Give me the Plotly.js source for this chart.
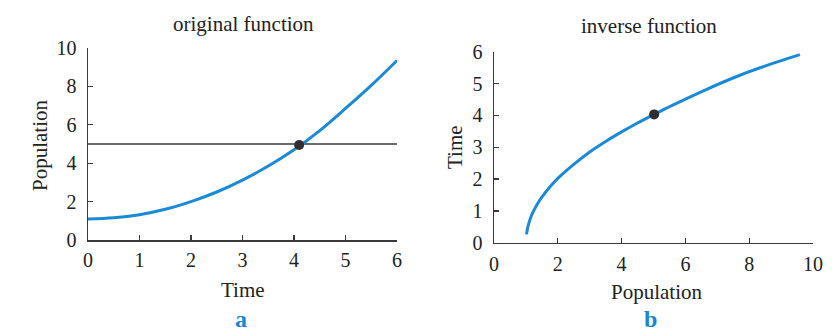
<!DOCTYPE html>
<html>
<head>
<meta charset="utf-8">
<script src="https://cdn.plot.ly/plotly-3.0.1.min.js"></script>
<style>html,body{margin:0;padding:0;background:#fff;}#chart{width:832px;height:333px;}</style>
</head>
<body>
<div id="chart"></div>
<script>
// Panel a: original function (Population vs Time)
const origTime = [0, 0.5, 1, 1.5, 2, 2.5, 3, 3.5, 4, 4.5, 5, 5.5, 6];
const origPop  = [1.1, 1.16, 1.32, 1.6, 2.0, 2.5, 3.12, 3.85, 4.7, 5.7, 6.85, 8.05, 9.35];
const hLineTime = [0, 6];
const hLinePop  = [5, 5];
const origPointTime = [4.1];
const origPointPop  = [4.95];

// Panel b: inverse function (Time vs Population)
const invPop  = [1.02, 1.05, 1.1, 1.2, 1.35, 1.5, 1.75, 2.0, 2.5, 3.0, 3.5, 4.0, 4.5, 5.02, 5.62, 6.67, 7.71, 8.76, 9.59];
const invTime = [0.26, 0.45, 0.64, 0.91, 1.2, 1.43, 1.75, 2.02, 2.46, 2.85, 3.18, 3.48, 3.76, 4.03, 4.33, 4.82, 5.26, 5.64, 5.91];
const invPointPop  = [5.02];
const invPointTime = [4.03];

const leftYTicks = [0, 2, 4, 6, 8, 10];
const leftXTicks = [0, 1, 2, 3, 4, 5, 6];
const rightYTicks = [0, 1, 2, 3, 4, 5, 6];
const rightXTicks = [0, 2, 4, 6, 8, 10];

const titles = ['original function', 'inverse function'];
const axisTitles = {aX: 'Time', aY: 'Population', bX: 'Population', bY: 'Time'};
const panelLabels = ['a', 'b'];

const blue = '#1b8ad6';
const dark = '#3a3a3a';
const serif = 'Liberation Serif, Times New Roman, serif';

const traces = [
  {x: hLineTime, y: hLinePop, mode: 'lines', line: {color: dark, width: 1.3}, xaxis: 'x', yaxis: 'y', cliponaxis: false, hoverinfo: 'skip'},
  {x: origTime, y: origPop, mode: 'lines', line: {color: blue, width: 3, shape: 'spline', smoothing: 1}, xaxis: 'x', yaxis: 'y', cliponaxis: false},
  {x: origPointTime, y: origPointPop, mode: 'markers', marker: {color: '#2e2e33', size: 10}, xaxis: 'x', yaxis: 'y', cliponaxis: false},
  {x: invPop, y: invTime, mode: 'lines', line: {color: blue, width: 3, shape: 'spline', smoothing: 0.9}, xaxis: 'x2', yaxis: 'y2', cliponaxis: false},
  {x: invPointPop, y: invPointTime, mode: 'markers', marker: {color: '#2e2e33', size: 10}, xaxis: 'x2', yaxis: 'y2', cliponaxis: false}
];

function axis(domain, range, ticks, anchor, extra) {
  return Object.assign({
    domain: domain, range: range, tickmode: 'array', tickvals: ticks, ticktext: ticks.map(String),
    ticks: 'inside', ticklen: 5, tickwidth: 1.3, tickcolor: dark,
    showline: true, linecolor: dark, linewidth: 1.5, showgrid: false, zeroline: false,
    tickfont: {family: serif, size: 20, color: '#222'}, anchor: anchor, fixedrange: true
  }, extra || {});
}

const W = 832, H = 333;
const px = v => v / W;
const py = v => (H - v) / H;

const layout = {
  width: W, height: H,
  margin: {l: 0, r: 0, t: 0, b: 0},
  paper_bgcolor: '#ffffff', plot_bgcolor: 'rgba(0,0,0,0)',
  showlegend: false,
  xaxis: axis([px(88), px(397)], [0, 6], leftXTicks, 'y', {ticklabelstandoff: 1}),
  yaxis: axis([py(240), py(48)], [0, 10], leftYTicks, 'x', {ticklabelstandoff: 6}),
  xaxis2: axis([px(494), px(813)], [0, 10], rightXTicks, 'y2', {ticklabelstandoff: 3}),
  yaxis2: axis([py(242.7), py(51.7)], [0, 6], rightYTicks, 'x2', {ticklabelstandoff: 6}),
  annotations: [
    {text: titles[0], x: px(243), y: py(24), xref: 'paper', yref: 'paper', showarrow: false, xanchor: 'center', yanchor: 'middle', font: {family: serif, size: 21, color: '#222'}},
    {text: titles[1], x: px(649), y: py(26), xref: 'paper', yref: 'paper', showarrow: false, xanchor: 'center', yanchor: 'middle', font: {family: serif, size: 21, color: '#222'}},
    {text: axisTitles.aX, x: px(243), y: py(290), xref: 'paper', yref: 'paper', showarrow: false, xanchor: 'center', yanchor: 'middle', font: {family: serif, size: 21, color: '#222'}},
    {text: axisTitles.aY, x: px(40), y: py(145), xref: 'paper', yref: 'paper', showarrow: false, textangle: -90, xanchor: 'center', yanchor: 'middle', font: {family: serif, size: 21, color: '#222'}},
    {text: axisTitles.bX, x: px(657), y: py(292), xref: 'paper', yref: 'paper', showarrow: false, xanchor: 'center', yanchor: 'middle', font: {family: serif, size: 21, color: '#222'}},
    {text: axisTitles.bY, x: px(455), y: py(147), xref: 'paper', yref: 'paper', showarrow: false, textangle: -90, xanchor: 'center', yanchor: 'middle', font: {family: serif, size: 21, color: '#222'}},
    {text: '<b>' + panelLabels[0] + '</b>', x: px(241), y: 0, xref: 'paper', yref: 'paper', showarrow: false, xanchor: 'center', yanchor: 'bottom', borderpad: 0, font: {family: serif, size: 24, color: '#1a86d0'}},
    {text: '<b>' + panelLabels[1] + '</b>', x: px(650), y: 0, xref: 'paper', yref: 'paper', showarrow: false, xanchor: 'center', yanchor: 'bottom', borderpad: 0, font: {family: serif, size: 24, color: '#1a86d0'}}
  ]
};

Plotly.newPlot('chart', traces, layout, {displayModeBar: false, staticPlot: true});
</script>
</body>
</html>
